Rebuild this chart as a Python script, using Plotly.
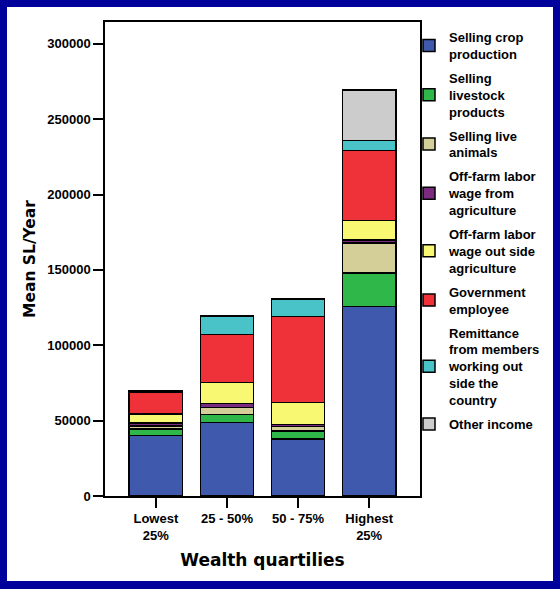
import plotly.graph_objects as go

categories = ["Lowest<br>25%", "25 - 50%", "50 - 75%", "Highest<br>25%"]

series_names = [
    "Selling crop<br>production",
    "Selling<br>livestock<br>products",
    "Selling live<br>animals",
    "Off-farm labor<br>wage from<br>agriculture",
    "Off-farm labor<br>wage out side<br>agriculture",
    "Government<br>employee",
    "Remittance<br>from members<br>working out<br>side the<br>country",
    "Other income",
]

selling_crop = [40000, 48900, 37850, 125900]
selling_livestock = [4600, 5300, 5300, 22100]
selling_live_animals = [1800, 4400, 2900, 19900]
offfarm_agri = [2000, 2900, 1300, 1800]
offfarm_nonagri = [6000, 13700, 14600, 13100]
government = [14300, 32100, 57100, 46300]
remittance = [800, 12000, 11500, 6800]
other_income = [500, 0, 0, 33600]

series_values = [selling_crop, selling_livestock, selling_live_animals, offfarm_agri,
                 offfarm_nonagri, government, remittance, other_income]

colors = ["#3F5AAC", "#2FB74A", "#D4CF98", "#7A2A7F", "#F9F872", "#EF323A", "#49C3C8", "#CCCCCC"]

y_ticks = [0, 50000, 100000, 150000, 200000, 250000, 300000]

fig = go.Figure()
for i, (name, vals) in enumerate(zip(series_names, series_values)):
    fig.add_trace(go.Bar(
        x=list(range(len(categories))), y=vals, name=name,
        legendgroup="g%d" % i,
        marker=dict(color=colors[i], line=dict(color="black", width=1.5)),
        width=0.75,
    ))

axis_font = dict(family="Liberation Sans, Arial, sans-serif", size=13, color="black", weight="bold")
title_font = dict(family="DejaVu Sans, sans-serif", color="black", weight="bold")

# plot area: x 105..420, y 22..496 (px)
fig.update_layout(
    width=560, height=589,
    barmode="stack",
    paper_bgcolor="#00009A",
    plot_bgcolor="white",
    margin=dict(l=105, r=140, t=22, b=93, autoexpand=False),
    showlegend=True,
    legend=dict(
        x=(409 - 105) / 315, xanchor="left", y=1.0, yanchor="top",
        traceorder="grouped", tracegroupgap=4,
        font=axis_font, bgcolor="rgba(0,0,0,0)",
        itemwidth=30,
    ),
    shapes=[dict(type="rect", xref="paper", yref="paper",
                 x0=(7 - 105) / 315, x1=(553 - 105) / 315,
                 y0=(496 - 581) / 474, y1=(496 - 7) / 474,
                 fillcolor="white", line=dict(width=0), layer="below")],
    xaxis=dict(
        range=[-0.715, 3.715],
        tickmode="array", tickvals=list(range(len(categories))), ticktext=categories,
        ticks="outside", ticklen=10, tickwidth=1.5, tickcolor="black",
        showline=True, linecolor="black", linewidth=1.5, mirror=True,
        showgrid=False, zeroline=False,
        tickfont=axis_font,
        title=dict(text="Wealth quartilies", font=dict(title_font, size=17), standoff=12),
    ),
    yaxis=dict(
        range=[0, 314500],
        tickmode="array", tickvals=y_ticks, ticktext=[str(v) for v in y_ticks],
        ticks="outside", ticklen=10, tickwidth=1.5, tickcolor="black",
        showline=True, linecolor="black", linewidth=1.5, mirror=True,
        showgrid=False, zeroline=False,
        tickfont=axis_font,
        title=dict(text="Mean SL/Year", font=dict(title_font, size=15.5), standoff=8),
    ),
)

fig.write_html("out.html")
